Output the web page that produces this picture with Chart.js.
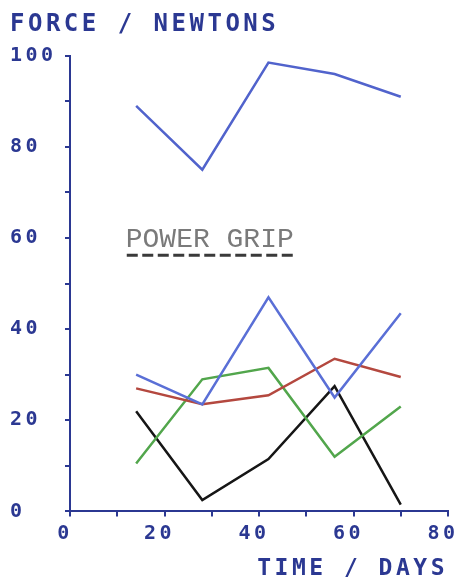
<!DOCTYPE html>
<html>
<head>
<meta charset="utf-8">
<script src="https://cdn.jsdelivr.net/npm/chart.js@4/dist/chart.umd.min.js"></script>
<style>
  body { margin: 0; background: #fff; }
</style>
</head>
<body>
<canvas id="gripChart" width="457" height="583"></canvas>
<script>
// data (days vs force)
const days = [14, 28, 42, 56, 70];
const blueUpper = [89, 75, 98.5, 96, 91];
const blueLower = [30, 23.5, 47, 25, 43.5];
const redLine = [27, 23.5, 25.5, 33.5, 29.5];
const greenLine = [10.5, 29, 31.5, 12, 23];
const blackLine = [22, 2.5, 11.5, 27.5, 1.5];

const yLabels = [0, 20, 40, 60, 80, 100];
const xLabels = [0, 20, 40, 60, 80];
const noteText = "POWER GRIP";

const ink = "#2b3892";
const monoBold = { family: "DejaVu Sans Mono", weight: "bold", size: 20 };

function toPoints(values) {
  return days.map((d, i) => ({ x: d, y: values[i] }));
}

// typewriter-ish note with dashed underline
const notePlugin = {
  id: "note",
  beforeLayout(chart) {
    chart.ctx.letterSpacing = "3.5px";
  },
  beforeDraw(chart) {
    chart.ctx.letterSpacing = "3.5px";
  },
  afterDraw(chart) {
    const ctx = chart.ctx;
    const xs = chart.scales.x;
    const ys = chart.scales.y;
    ctx.save();
    ctx.letterSpacing = "0px";
    ctx.font = "28px 'Liberation Mono'";
    ctx.fillStyle = "#7a7a7a";
    ctx.textAlign = "left";
    ctx.textBaseline = "alphabetic";
    const x0 = xs.getPixelForValue(11.8);
    const y0 = ys.getPixelForValue(58);
    ctx.fillText(noteText, x0, y0);
    const w = ctx.measureText(noteText).width;
    ctx.strokeStyle = "#3a3a3a";
    ctx.lineWidth = 3;
    ctx.setLineDash([11, 4.5]);
    ctx.beginPath();
    ctx.moveTo(x0 + 1, y0 + 8);
    ctx.lineTo(x0 + w + 1, y0 + 8);
    ctx.stroke();
    ctx.restore();
  },
};

const series = [
  { data: blueUpper, color: "#5163cc" },
  { data: blueLower, color: "#5a6fd6" },
  { data: redLine, color: "#b4483f" },
  { data: greenLine, color: "#52a64c" },
  { data: blackLine, color: "#161616" },
];

new Chart(document.getElementById("gripChart"), {
  type: "line",
  data: {
    datasets: series.map((s) => ({
      data: toPoints(s.data),
      borderColor: s.color,
      borderWidth: 2.5,
      pointRadius: 0,
      tension: 0,
      fill: false,
    })),
  },
  options: {
    responsive: false,
    animation: false,
    layout: { padding: { top: 6, left: 10, right: 9, bottom: 0 } },
    plugins: {
      legend: { display: false },
      tooltip: { enabled: false },
      title: {
        display: true,
        text: "FORCE / NEWTONS",
        align: "start",
        color: ink,
        font: { family: "DejaVu Sans Mono", weight: "bold", size: 24 },
        padding: { top: 4, bottom: 17 },
      },
    },
    scales: {
      x: {
        type: "linear",
        min: 0,
        max: 80,
        border: { color: ink, width: 2 },
        grid: { drawOnChartArea: false, color: ink, tickLength: 5, lineWidth: 2 },
        ticks: {
          stepSize: 10,
          color: ink,
          font: monoBold,
          padding: 5,
          labelOffset: -5,
          callback: (v) => (xLabels.includes(v) ? String(v) : ""),
        },
        title: {
          display: true,
          text: "TIME / DAYS",
          align: "end",
          color: ink,
          font: { family: "DejaVu Sans Mono", weight: "bold", size: 23 },
          padding: { top: 5, bottom: 0 },
        },
        afterFit(scale) {
          scale.paddingLeft = 0;
          scale.paddingRight = 0;
        },
      },
      y: {
        min: 0,
        max: 100,
        border: { color: ink, width: 2 },
        grid: { drawOnChartArea: false, color: ink, tickLength: 5, lineWidth: 2 },
        ticks: {
          stepSize: 10,
          color: ink,
          font: monoBold,
          crossAlign: "far",
          callback: (v) => (yLabels.includes(v) ? String(v) : ""),
        },
        afterFit(scale) {
          scale.width = 60;
        },
      },
    },
  },
  plugins: [notePlugin],
});
</script>
</body>
</html>
